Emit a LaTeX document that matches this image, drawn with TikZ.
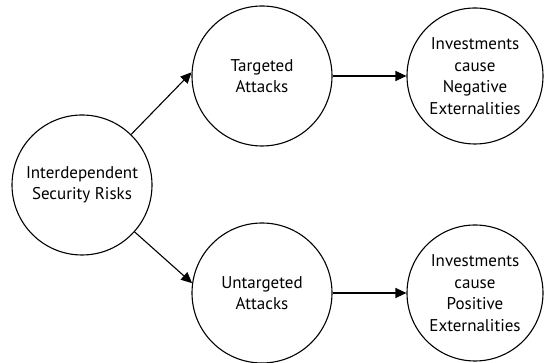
\documentclass[tikz,border=0pt]{standalone}
\usepackage{fontspec}
\setmainfont{PT Sans}
\usetikzlibrary{arrows.meta}

\begin{document}
\begin{tikzpicture}
[x=1pt,y=1pt,line width=1.1pt,
every node/.style={circle,draw,inner sep=0pt,align=center,minimum size=140pt,
  font=\fontsize{17}{21.5}\selectfont}]
\useasboundingbox (0,0) rectangle (544,363);
\node (n1) at (82,178) {Interdependent\\Security Risks};
\node (n2) at (262,287) {Targeted\\Attacks};
\node[minimum size=136pt] (n3) at (475,287) {Investments\\cause\\Negative\\Externalities};
\node (n4) at (262,70) {Untargeted\\Attacks};
\node[minimum size=136pt] (n5) at (475,70) {Investments\\cause\\Positive\\Externalities};
\foreach \from/\to in {n1/n2.177,n1/n4.172,n2/n3,n4/n5}
\draw[-{Triangle[length=11pt,width=10pt]}] (\from) -- (\to);
\end{tikzpicture}
\end{document}
